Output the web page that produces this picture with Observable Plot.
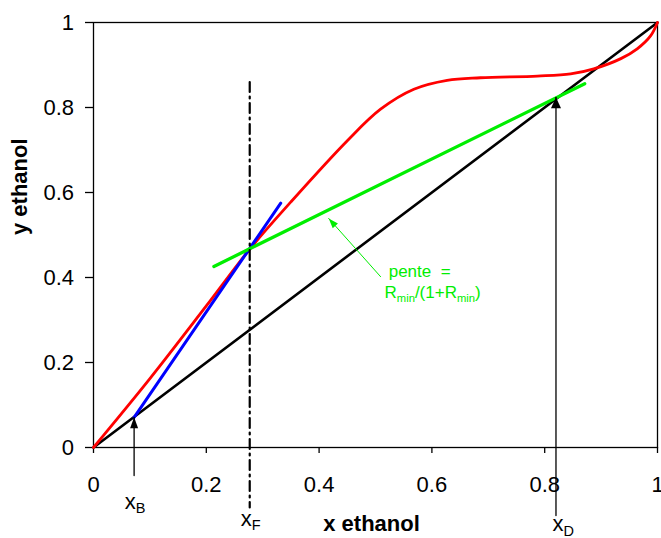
<!DOCTYPE html>
<html><head><meta charset="utf-8">
<script src="https://cdn.jsdelivr.net/npm/d3@7"></script>
<script src="https://cdn.jsdelivr.net/npm/@observablehq/plot@0.6"></script>
<style>
html,body{margin:0;padding:0;background:#fff}
#chart svg{display:block}
</style>
</head><body><div id="chart"></div>
<script>
// ---- data ----
const tickValues = [0, 0.2, 0.4, 0.6, 0.8, 1];

// equilibrium curve (red)
const equilX = [0, 0.1, 0.2, 0.279, 0.35, 0.45, 0.509, 0.568, 0.627, 0.686, 0.787, 0.846, 0.887, 0.935, 0.964, 0.988, 1];
const equilY = [0, 0.162, 0.333, 0.47, 0.578, 0.722, 0.796, 0.843, 0.864, 0.870, 0.874, 0.879, 0.891, 0.915, 0.938, 0.969, 1];

// diagonal y = x (black)
const diagX = [0, 1];
const diagY = [0, 1];

// stripping operating line (blue)
const strippingX = [0.072, 0.332];
const strippingY = [0.071, 0.575];

// rectifying line at minimum reflux (green)
const pinchX = [0.2135, 0.871];
const pinchY = [0.426, 0.856];

// feed composition (dash-dot vertical)
const xF = 0.277;
const feedLineY = [0.86, -0.141];

// arrows to x_B and x_D
const xB = 0.072;
const xBArrowY = [-0.066, 0.071];
const xD = 0.82;
const xDArrowY = [-0.16, 0.824];

// slope annotation arrow (green)
const slopeArrowX = [0.509, 0.417];
const slopeArrowY = [0.402, 0.539];
const slopeTextX = [0.5234, 0.516];
const slopeTextY = [0.4007, 0.352];
const slopeText = ["pente\u00a0\u00a0=", "R_{min}/(1+R_{min})"];

// ---- layout ----
const W = 661, H = 538, mL = 93, mR = 4, mT = 22, mB = 91;
const kx = W - mL - mR, ky = H - mT - mB;
const rows = (xs, ys) => xs.map((x, i) => ({x, y: ys[i]}));
const GREEN = "#00ee00";

// custom filled arrowhead symbol, tip at origin; angle 0 = pointing up, clockwise degrees
function head(len, width, angleDeg) {
  const a = angleDeg * Math.PI / 180;
  const ux = Math.sin(a), uy = -Math.cos(a);
  const px = -uy, py = ux;
  return {
    draw(ctx) {
      ctx.moveTo(0, 0);
      ctx.lineTo(-ux * len + px * width / 2, -uy * len + py * width / 2);
      ctx.lineTo(-ux * len - px * width / 2, -uy * len - py * width / 2);
      ctx.closePath();
    }
  };
}
const gdx = (slopeArrowX[1] - slopeArrowX[0]) * kx;
const gdy = -(slopeArrowY[1] - slopeArrowY[0]) * ky;
const greenAngle = Math.atan2(gdx, -gdy) * 180 / Math.PI;

const fmt = d => String(d);

const chart = Plot.plot({
  width: W, height: H,
  marginLeft: mL, marginRight: mR, marginTop: mT, marginBottom: mB,
  x: {domain: [0, 1]},
  y: {domain: [0, 1]},
  style: {fontFamily: "'Liberation Sans', Arial, sans-serif", fontSize: "22px", background: "#fff", color: "#000"},
  marks: [
    Plot.axisX({ticks: tickValues, tickFormat: fmt, tickSize: 6, tickPadding: 23, label: null, fontSize: 22, strokeWidth: 1.3}),
    Plot.axisY({ticks: tickValues, tickFormat: fmt, tickSize: 8, tickPadding: 11.5, label: null, fontSize: 22, strokeWidth: 1.3}),
    Plot.frame({stroke: "#000", strokeWidth: 1.3}),
    Plot.line(rows(diagX, diagY), {x: "x", y: "y", stroke: "#000", strokeWidth: 2.6}),
    Plot.line(rows(equilX, equilY), {x: "x", y: "y", stroke: "#ff0000", strokeWidth: 2.8, curve: "catmull-rom"}),
    Plot.line(rows(strippingX, strippingY), {x: "x", y: "y", stroke: "#0000ff", strokeWidth: 3}),
    Plot.line(rows(pinchX, pinchY), {x: "x", y: "y", stroke: GREEN, strokeWidth: 3.3}),
    Plot.line(rows([xF, xF], feedLineY), {x: "x", y: "y", stroke: "#000", strokeWidth: 2.2, strokeDasharray: "10,4.5,2,4.5"}),
    // arrows
    Plot.line(rows([xB, xB], xBArrowY), {x: "x", y: "y", stroke: "#000", strokeWidth: 1.3}),
    Plot.line(rows([xD, xD], xDArrowY), {x: "x", y: "y", stroke: "#000", strokeWidth: 1.3}),
    Plot.dot([{x: xB, y: xBArrowY[1]}], {x: "x", y: "y", r: 5, symbol: head(11, 8, 0), fill: "#000", stroke: "none"}),
    Plot.dot([{x: xD, y: xDArrowY[1]}], {x: "x", y: "y", r: 5, symbol: head(11, 10, 0), fill: "#000", stroke: "none"}),
    Plot.line(rows(slopeArrowX, slopeArrowY), {x: "x", y: "y", stroke: GREEN, strokeWidth: 1}),
    Plot.dot([{x: slopeArrowX[1], y: slopeArrowY[1]}], {x: "x", y: "y", r: 5, symbol: head(10, 7, greenAngle), fill: GREEN, stroke: "none"}),
    // labels
    Plot.text(["x_{B}"], {x: () => xB, frameAnchor: "bottom", dy: 61, dx: -9.4, textAnchor: "start", lineAnchor: "bottom", fontSize: 22, fill: "#000"}),
    Plot.text(["x_{F}"], {x: () => xF, frameAnchor: "bottom", dy: 78, dx: -9, textAnchor: "start", lineAnchor: "bottom", fontSize: 22, fill: "#000"}),
    Plot.text(["x_{D}"], {x: () => xD, frameAnchor: "bottom", dy: 83.5, dx: -3.6, textAnchor: "start", lineAnchor: "bottom", fontSize: 22, fill: "#000"}),
    Plot.text(slopeText.map((t, i) => ({t, x: slopeTextX[i], y: slopeTextY[i]})), {x: "x", y: "y", text: "t", textAnchor: "start", lineAnchor: "bottom", fontSize: 17, fill: GREEN}),
    Plot.text(["x ethanol"], {frameAnchor: "bottom", dy: 76, dx: -4, lineAnchor: "middle", fontSize: 22, fontWeight: "bold", fill: "#000"}),
    Plot.text(["y ethanol"], {frameAnchor: "left", dx: -74, rotate: -90, lineAnchor: "middle", fontSize: 22, fontWeight: "bold", fill: "#000"})
  ]
});

document.getElementById("chart").appendChild(chart);

// turn "_{...}" into real subscript tspans
d3.select(chart).selectAll("text").each(function () {
  const el = this;
  const s = el.textContent;
  if (!s.includes("_{")) return;
  const fs = parseFloat(getComputedStyle(el).fontSize) || 16;
  const shift = fs * 0.22;
  el.textContent = "";
  const re = /_\{([^}]*)\}/g;
  let last = 0, m, lowered = false;
  const add = (txt, sub) => {
    if (!txt) return;
    const t = document.createElementNS("http://www.w3.org/2000/svg", "tspan");
    t.textContent = txt;
    if (sub) {
      t.setAttribute("font-size", (fs * 0.66).toFixed(2));
      t.setAttribute("dy", shift.toFixed(2));
      lowered = true;
    } else if (lowered) {
      t.setAttribute("dy", (-shift).toFixed(2));
      lowered = false;
    }
    el.appendChild(t);
  };
  while ((m = re.exec(s))) {
    add(s.slice(last, m.index), false);
    add(m[1], true);
    last = re.lastIndex;
  }
  add(s.slice(last), false);
});
</script>
</body></html>
